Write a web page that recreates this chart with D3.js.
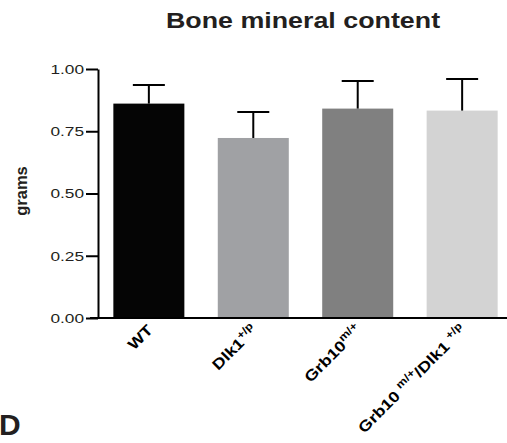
<!DOCTYPE html>
<html>
<head>
<meta charset="utf-8">
<script src="https://cdn.jsdelivr.net/npm/d3@7"></script>
<style>
html,body{margin:0;padding:0;background:#fff;}
svg{display:block;}
text{font-family:"Liberation Sans",Arial,sans-serif;}
</style>
</head>
<body>
<svg id="chart" width="507" height="443"></svg>
<script>
// Data
const categories = ["WT", "Dlk1+/p", "Grb10m/+", "Grb10 m/+/Dlk1 +/p"];
const labelParts = [
  [["WT", false]],
  [["Dlk1", false], ["+/p", true]],
  [["Grb10", false], ["m/+", true]],
  [["Grb10 ", false], ["m/+", true], ["/Dlk1 ", false], ["+/p", true]]
];
const means = [0.861, 0.723, 0.841, 0.833];
const errors = [0.075, 0.104, 0.111, 0.127];
const colors = ["#050505", "#a0a1a4", "#808080", "#d3d3d3"];
const yTicks = [0, 0.25, 0.5, 0.75, 1.0];

const svg = d3.select("#chart");
const x0 = 98, y0 = 318, yTop = 69;

const x = d3.scaleBand().domain(categories).range([x0, 513])
  .paddingInner(0.32).paddingOuter(0.147);
const y = d3.scaleLinear().domain([0, 1]).range([y0, yTop]);

// Title
svg.append("text").attr("transform", "translate(303,28) scale(1.22,1)")
  .attr("text-anchor", "middle")
  .attr("font-weight", "bold").attr("font-size", 22).attr("fill", "#231f20")
  .text("Bone mineral content");

// Bars
svg.selectAll("rect.bar").data(categories).enter().append("rect")
  .attr("x", d => x(d)).attr("width", x.bandwidth())
  .attr("y", (d, i) => y(means[i])).attr("height", (d, i) => y0 - y(means[i]))
  .attr("fill", (d, i) => colors[i]);

// Error bars
const capW = 32;
categories.forEach((c, i) => {
  const cx = x(c) + x.bandwidth() / 2;
  svg.append("line").attr("x1", cx).attr("x2", cx)
    .attr("y1", y(means[i])).attr("y2", y(means[i] + errors[i]))
    .attr("stroke", "#000").attr("stroke-width", 2);
  svg.append("line").attr("x1", cx - capW / 2).attr("x2", cx + capW / 2)
    .attr("y1", y(means[i] + errors[i])).attr("y2", y(means[i] + errors[i]))
    .attr("stroke", "#000").attr("stroke-width", 2);
});

// Y axis
const tickLen = 12;
const yAxis = d3.axisLeft(y).tickValues(yTicks).tickFormat(d3.format(".2f"))
  .tickSize(tickLen).tickPadding(1).tickSizeOuter(0);
const gy = svg.append("g").attr("transform", `translate(${x0},0)`).call(yAxis);
gy.select(".domain").attr("stroke", "#000").attr("stroke-width", 2);
gy.selectAll(".tick line").attr("stroke", "#000").attr("stroke-width", 2);
gy.selectAll(".tick text").attr("font-size", 12.8).attr("fill", "#231f20")
  .attr("font-family", "Liberation Sans, Arial, sans-serif")
  .attr("x", null).attr("dy", "0.34em")
  .attr("transform", `translate(${-tickLen - 2},0) scale(1.35,1)`);

// X axis line
const xAxis = d3.axisBottom(x).tickSize(0).tickFormat("");
const gx = svg.append("g").attr("transform", `translate(0,${y0})`).call(xAxis);
gx.select(".domain").attr("d", `M${x0 - 8},0H507`).attr("stroke", "#000").attr("stroke-width", 2);

// X labels
categories.forEach((c, i) => {
  const cx = x(c) + x.bandwidth() / 2;
  const t = svg.append("text")
    .attr("transform", `translate(${cx + 5},${y0 + 13}) rotate(-45) scale(1.2,1)`)
    .attr("text-anchor", "end").attr("font-weight", "bold").attr("font-size", 15)
    .attr("fill", "#000").attr("xml:space", "preserve");
  labelParts[i].forEach(([s, sup]) => {
    t.append("tspan").attr("font-size", sup ? 10.5 : 15)
      .attr("baseline-shift", sup ? "55%" : "0%").text(s);
  });
});

// Y label
svg.append("text").attr("transform", "translate(27,191) rotate(-90)")
  .attr("text-anchor", "middle").attr("font-weight", "bold").attr("font-size", 16.5)
  .attr("fill", "#231f20").text("grams");

// Panel letter
svg.append("text").attr("x", -1).attr("y", 435).attr("font-weight", "bold")
  .attr("font-size", 30).attr("fill", "#231f20").text("D");
</script>
</body>
</html>
